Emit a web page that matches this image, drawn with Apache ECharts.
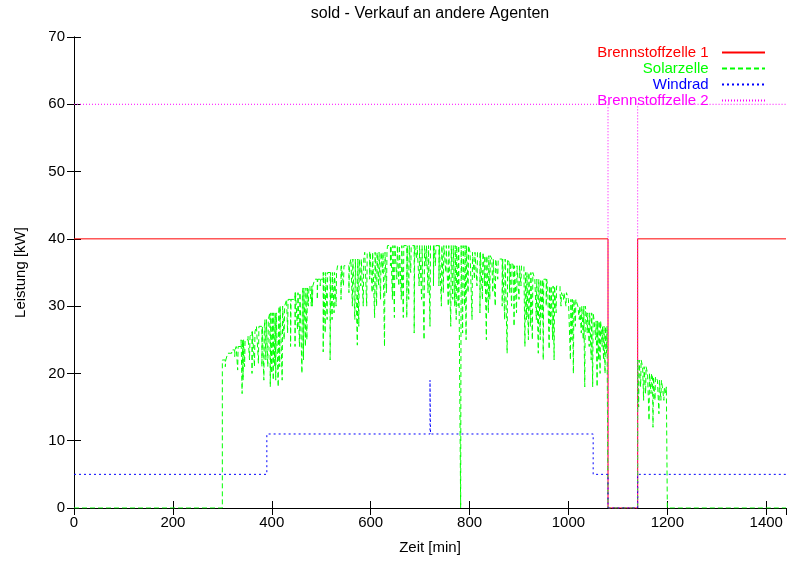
<!DOCTYPE html>
<html><head><meta charset="utf-8">
<script src="https://cdn.jsdelivr.net/npm/echarts@6/dist/echarts.min.js"></script>
<style>html,body{margin:0;padding:0;background:#fff}#c{width:789px;height:562px}</style>
</head><body><div id="c"></div>
<script>
const titleText = 'sold - Verkauf an andere Agenten';
const seriesNames = ['Brennstoffzelle 1', 'Solarzelle', 'Windrad', 'Brennstoffzelle 2'];
const xName = 'Zeit [min]';
const yName = 'Leistung [kW]';

// [minute, kW] – value holds from that minute on (step)
const fc1Data = [[0,40],[1080,0],[1140,40],[1440,40]];
const fc2Data = [[0,60],[1080,0],[1140,60],[1440,60]];
const windData = [[0,5],[390,11],[720,19],[721,11],[1050,5],[1080,0],[1140,5],[1440,5]];

// Solar envelope levels
const solarLevels = [[0,0],[300,22],[311,23],[319,23.5],[328,24],[338,25],[352,25.5],[360,26.2],[369,27],[386,28],[396,29],[415,30],[430,31],[447,32],[463,32.7],[477,33],[487,34],[504,35],[533,36],[560,37],[588,38],[634,39],[801,38],[828,37.5],[845,37],[880,36.5],[889,36],[910,35],[932,34],[958,33],[983,32],[1000,31],[1019,30],[1036,29],[1052,27.8],[1066,27],[1080,0],[1140,22],[1150,21],[1160,20],[1170,19.5],[1180,19],[1190,18],[1200,0],[1440,0]];
// Short drops of the solar output (cloud dips)
const solarDips = [[306,21],[325,22.5],[331,20.5],[340,17],[342,19],[345,21],[355,22],[360,20],[365,21],[373,21.5],[380,21],[384,19],[388,22],[392,21],[397,18],[400,20],[403,19],[406,21],[408,19],[413,18],[416,21],[421,19],[425,25],[432,26],[438,24],[447,24],[452,26.5],[456,24],[461,20],[464,22],[468,24],[471,25],[474,30],[480,30],
[482,30],[492,31],[498,33],[504,23.2],[508,26],[512,28],[518,22],[522,28],[526,29],[530,30],[540,31],[545,33],[556,32],[563,30],[568,28],[573,24.2],[576,27],[580,33],[585,30],[592,30],[598,34],[603,32],[608,28.3],[612,30],[616,33],[620,31],[624,35],[628,24],[632,32],[640,36],[644,31],[648,28.3],[653,34],[657,33],[662,31],[666,28.3],
[673,28.3],[677,31],[681,35],[688,26],[693,37],[698,33],[703,31],[708,25],[712,36],[716,32],[720,27],[727,33],[731,36],[738,33],[743,30],[747,32],[752,35],[757,30],[762,27],[766,31],[770,30],[773,28],[777,30],[782,0],[786,26],[790,30],[793,25],[797,32],[805,28],[810,34],[815,33],[821,29],[826,31],[830,33],[834,25],[838,29],[841,31],[847,32],[852,30],[857,34],
[866,30],[871,28],[876,23],[881,32],[885,30],[890,27],[895,29],[900,31],[904,33],[912,24],[915,28],[919,25],[923,27],[927,25],[935,28],[939,23],[943,25],[947,28],[949,22],[955,30],[961,23.6],[964,27],[968,25],[971,22],[975,29],[985,30],[990,31],[995,30],[1004,22],[1007,25],[1010,20],[1014,27],[1022,28],[1026,26],[1030,25],[1033,18],[1038,26],[1042,24],[1046,22],[1049,18],[1055,25],[1058,18],[1061,22],[1064,20],[1068,24],[1071,22],[1074,20],[1077,23],
[1142,15],[1146,18],[1152,16],[1156,17],[1163,13],[1167,17],[1171,12],[1175,16],[1183,14],[1187,16],[1193,16],[1197,17]];

const xMin = 0, xMax = 1440, xStep = 200;
const yMin = 0, yMax = 70, yStep = 10;

function levelAt(t) {
  let L = 0;
  for (const p of solarLevels) if (p[0] <= t) L = p[1];
  return L;
}
function buildSolar() {
  const pts = solarLevels.map(p => ({t: p[0], v: p[1], k: 0}));
  solarDips.forEach(d => {
    pts.push({t: d[0], v: d[1], k: 1});
    pts.push({t: d[0] + 1, v: levelAt(d[0] + 1), k: 2});
  });
  pts.sort((a, b) => a.t - b.t || a.k - b.k);
  return pts.map(p => [p.t, p.v]);
}
const solarData = buildSolar();

const FONT = '"Liberation Sans", Arial, sans-serif';
const chart = echarts.init(document.getElementById('c'), null, {renderer: 'canvas'});
const axisLine = {show: true, lineStyle: {color: '#000', width: 1}};
const axisTick = {show: true, inside: true, length: 7, lineStyle: {color: '#000', width: 1}};
const colors = ['#ff0000', '#00ff00', '#0000ff', '#ff00ff'];
const dashes = ['solid', [5, 3], [2, 3], [1, 2]];
const datasets = [fc1Data, solarData, windData, fc2Data];
const plain = v => String(v);

chart.setOption({
  animation: false,
  textStyle: {fontFamily: FONT},
  graphic: [{type: 'text', x: 430, y: 14, style: {text: titleText, font: '16px ' + FONT, fill: '#000', align: 'center', verticalAlign: 'middle'}}],
  grid: {left: 74, right: 3, top: 37, bottom: 54, containLabel: false},
  legend: {
    orient: 'vertical', right: 23, top: 45, align: 'right', padding: 0,
    itemWidth: 43, itemHeight: 14, itemGap: 1, selectedMode: false,
    formatter: n => n + '  ',
    itemStyle: {color: 'rgba(0,0,0,0)', borderColor: 'rgba(0,0,0,0)', borderWidth: 0, opacity: 0},
    textStyle: {fontSize: 15, fontFamily: FONT},
    data: seriesNames.map((n, i) => ({name: n, textStyle: {color: colors[i]}}))
  },
  xAxis: [
    {type: 'value', min: xMin, max: xMax, interval: xStep, position: 'bottom',
     name: xName, nameLocation: 'middle', nameGap: 32, nameTextStyle: {fontSize: 15, color: '#000', fontFamily: FONT},
     axisLine, axisTick, splitLine: {show: false},
     axisLabel: {color: '#000', fontSize: 15, margin: 7, showMaxLabel: false, fontFamily: FONT, formatter: plain}},
    {type: 'value', min: xMin, max: xMax, interval: xStep, position: 'top',
     axisLine, axisTick, splitLine: {show: false}, axisLabel: {show: false}}
  ],
  yAxis: [
    {type: 'value', min: yMin, max: yMax, interval: yStep, position: 'left',
     name: yName, nameLocation: 'middle', nameGap: 46, nameTextStyle: {fontSize: 15, color: '#000', fontFamily: FONT},
     axisLine, axisTick, splitLine: {show: false},
     axisLabel: {color: '#000', fontSize: 15, margin: 9, fontFamily: FONT, formatter: plain}},
    {type: 'value', min: yMin, max: yMax, interval: yStep, position: 'right',
     axisLine, axisTick, splitLine: {show: false}, axisLabel: {show: false}}
  ],
  series: seriesNames.map((n, i) => ({
    name: n, type: 'line', step: 'end', data: datasets[i],
    xAxisIndex: 0, yAxisIndex: 0, symbol: 'none', showSymbol: false,
    lineStyle: {color: colors[i], width: 1, type: dashes[i]},
    itemStyle: {color: colors[i]},
    emphasis: {disabled: true}, silent: true
  }))
});
</script></body></html>
